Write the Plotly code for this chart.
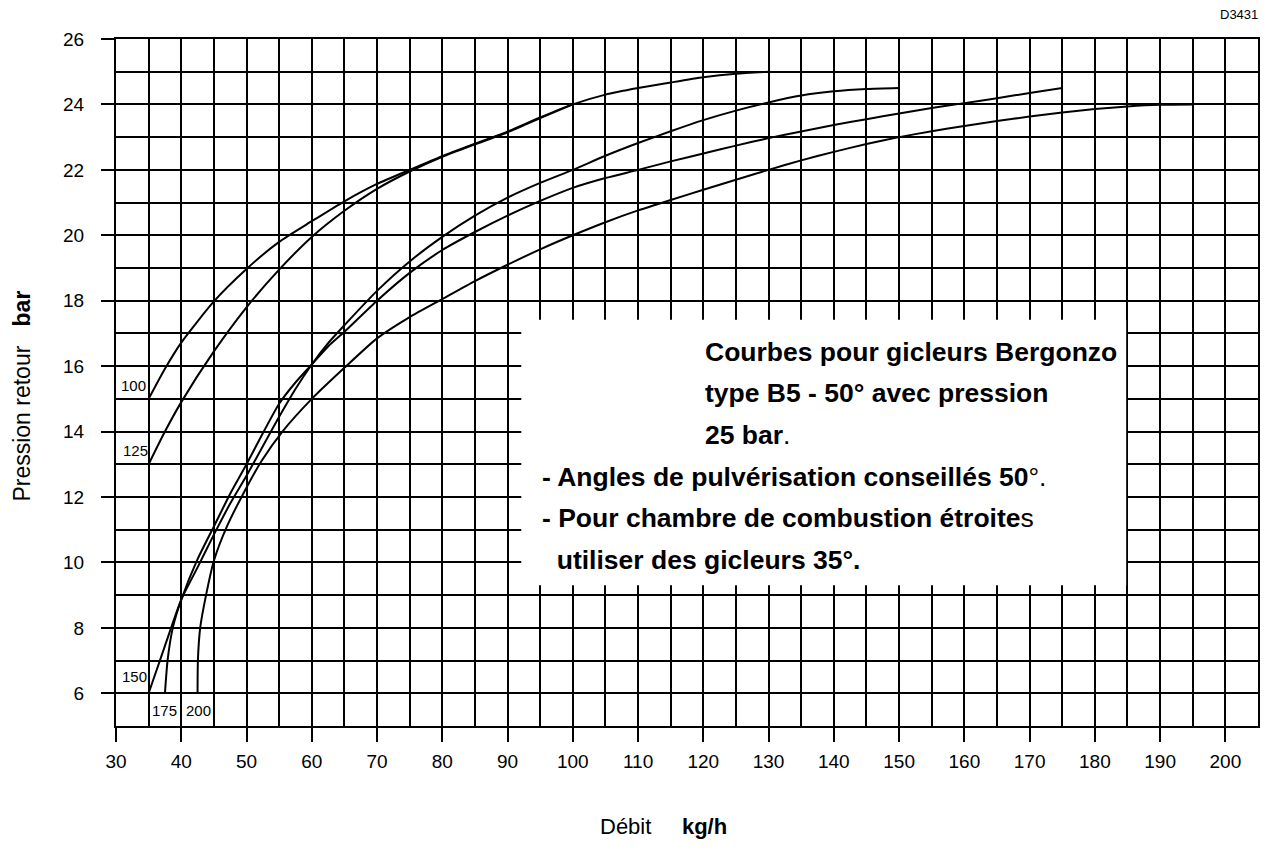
import plotly.graph_objects as go

# Débit (kg/h) / pression retour (bar), one list pair per nozzle curve
x_100 = [35, 37.5, 40, 45, 50, 55, 60, 65, 70, 75, 80, 85, 90, 95, 100, 105, 110, 115, 120, 125, 130]
y_100 = [15, 15.92, 16.72, 17.98, 18.97, 19.8, 20.43, 21.04, 21.57, 22.0, 22.42, 22.8, 23.17, 23.6, 24.0,
         24.3, 24.5, 24.67, 24.83, 24.94, 25.0]

x_125 = [35, 37.5, 40, 45, 50, 55, 60, 65, 70, 75, 80, 85, 90, 95, 100]
y_125 = [13, 14.0, 14.9, 16.45, 17.8, 18.95, 19.95, 20.75, 21.42, 21.95, 22.4, 22.78, 23.15, 23.58, 24.0]

x_150 = [35, 37.5, 40, 42.5, 45, 47.5, 50, 52.5, 55, 57.5, 60, 62.5, 65, 70, 75, 80, 85, 90, 95, 100,
         105, 110, 115, 120, 125, 130, 135, 140, 145, 150]
y_150 = [6, 7.45, 8.86, 9.85, 10.85, 11.8, 12.65, 13.55, 14.45, 15.3, 16.05, 16.7, 17.25, 18.3, 19.2,
         19.95, 20.6, 21.15, 21.6, 22.0, 22.43, 22.82, 23.18, 23.52, 23.81, 24.06, 24.27, 24.4, 24.47, 24.5]

x_175 = [37.5, 37.9, 38.7, 40, 42.5, 45, 47.5, 50, 52.5, 55, 57.5, 60, 62.5, 65, 70, 75, 80, 85, 90,
         95, 100, 105, 110, 115, 120, 125, 130, 135, 140, 145, 150, 155, 160, 165, 170, 175]
y_175 = [6, 7, 8, 8.86, 10.1, 11.1, 12.1, 13.0, 13.95, 14.85, 15.5, 16.05, 16.6, 17.05, 18.0, 18.85,
         19.55, 20.1, 20.6, 21.05, 21.45, 21.75, 22.0, 22.26, 22.5, 22.74, 22.97, 23.17, 23.37,
         23.55, 23.72, 23.89, 24.04, 24.19, 24.35, 24.5]

x_200 = [42.5, 42.55, 42.9, 43.8, 45, 47, 49.5, 52.3, 55.5, 60, 65, 70, 75, 80, 85, 90, 95, 100, 105,
         110, 115, 120, 125, 130, 135, 140, 145, 150, 155, 160, 165, 170, 175, 180, 185, 190, 195]
y_200 = [6, 7, 8, 9, 10.05, 11.1, 12.1, 13.1, 14, 15, 15.95, 16.85, 17.5, 18.05, 18.6, 19.1, 19.57, 20.0,
         20.4, 20.76, 21.08, 21.39, 21.7, 22.0, 22.29, 22.55, 22.79, 23.0, 23.18, 23.34, 23.49, 23.63,
         23.75, 23.86, 23.94, 23.99, 24.0]

curves = [(x_100, y_100), (x_125, y_125), (x_150, y_150), (x_175, y_175), (x_200, y_200)]

# curve labels and where they sit
curve_names = ['100', '125', '150', '175', '200']
label_x = [32.65, 32.95, 32.8, 37.5, 42.6]
label_y = [15.4, 13.43, 6.5, 5.48, 5.46]

x_ticks = list(range(30, 201, 10))
y_ticks = list(range(6, 27, 2))

note_lines = [
    'Courbes pour gicleurs Bergonzo',
    'type B5 - 50° avec pression',
    '25 bar<span style="font-weight:normal">.</span>',
    '- Angles de pulvérisation conseillés 50<span style="font-weight:normal">°.</span>',
    '- Pour chambre de combustion étroite<span style="font-weight:normal">s</span>',
    '&nbsp;&nbsp;utiliser des gicleurs 35°.',
]
note_x = [120, 120, 120, 95, 95, 95]
note_y = [16.43, 15.18, 13.89, 12.61, 11.36, 10.07]

sans = 'Liberation Sans, Arial, sans-serif'

fig = go.Figure()
for xs, ys in curves:
    fig.add_trace(go.Scatter(
        x=xs, y=ys, mode='lines',
        line=dict(color='black', width=2, shape='spline', smoothing=0.6),
        showlegend=False, hoverinfo='skip'
    ))

# white text panel over the grid
fig.add_shape(type='rect', x0=92.1, x1=184.8, y0=9.3, y1=17.42,
              fillcolor='white', line=dict(width=0), layer='above')

for txt, tx, ty in zip(note_lines, note_x, note_y):
    fig.add_annotation(x=tx, y=ty, text='<b>' + txt + '</b>',
                       showarrow=False, xanchor='left', yanchor='middle',
                       font=dict(size=26.5, family=sans, color='black'))

for name, lx, ly in zip(curve_names, label_x, label_y):
    fig.add_annotation(x=lx, y=ly, text=name, showarrow=False,
                       font=dict(size=15, family=sans, color='black'))

fig.add_annotation(xref='paper', yref='paper', x=-0.082, y=0.48, xanchor='center', yanchor='middle',
                   text='Pression retour &nbsp;&nbsp;<b>bar</b>', textangle=-90, showarrow=False,
                   font=dict(size=23, family=sans, color='black'))
fig.add_annotation(xref='paper', yref='paper', x=0.479, y=-0.1456, xanchor='center', yanchor='middle',
                   text='Débit &nbsp;&nbsp;&nbsp;&nbsp;<b>kg/h</b>', showarrow=False,
                   font=dict(size=22, family=sans, color='black'))
fig.add_annotation(xref='paper', yref='paper', x=1.0017, y=1.035, xanchor='right', yanchor='middle',
                   text='D3431', showarrow=False,
                   font=dict(size=13, family=sans, color='black'))

axis_common = dict(
    showline=True, linecolor='black', linewidth=2, mirror=True,
    showgrid=True, gridcolor='black', gridwidth=2,
    ticks='outside', tickcolor='black', tickwidth=2,
    zeroline=False, tickfont=dict(size=19, family=sans, color='black'),
)

# page body adds 8px around the figure, so the figure is shrunk by that much
fig.update_layout(
    width=1263, height=857,
    margin=dict(l=108, r=11, t=31, b=139),
    plot_bgcolor='white', paper_bgcolor='white',
    xaxis=dict(range=[30, 205], tickmode='array', tickvals=x_ticks, ticklen=14, ticklabelstandoff=3,
               minor=dict(dtick=5, tick0=30, showgrid=True, gridcolor='black', gridwidth=2),
               **axis_common),
    yaxis=dict(range=[5, 26], tickmode='array', tickvals=y_ticks, ticklen=13, ticklabelstandoff=13,
               minor=dict(dtick=1, tick0=5, showgrid=True, gridcolor='black', gridwidth=2),
               **axis_common),
)

fig.write_html('out.html')
